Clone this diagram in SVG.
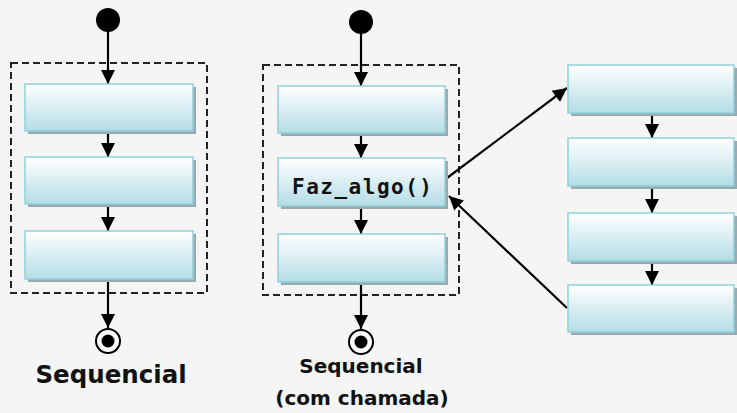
<svg xmlns="http://www.w3.org/2000/svg" width="737" height="413" viewBox="0 0 737 413">
<defs>
<linearGradient id="g" x1="0" y1="0" x2="0" y2="1">
<stop offset="0" stop-color="#ffffff"/>
<stop offset="1" stop-color="#b4dde6"/>
</linearGradient>
<marker id="ah" markerWidth="14" markerHeight="15" viewBox="0 0 14 15" refX="14" refY="7.5" orient="auto" markerUnits="userSpaceOnUse">
<path d="M0,0.5 L14,7.5 L0,14.5 Z" fill="#000"/>
</marker>
</defs>
<style>
.sh{fill:#9aa9ad}
.bx{fill:url(#g);stroke:#90cfdc;stroke-width:1.5}
.dash{fill:none;stroke:#222;stroke-width:2;stroke-dasharray:7,4}
.ln{stroke:#000;stroke-width:2.2;fill:none;marker-end:url(#ah)}
.t{font-family:"DejaVu Sans",sans-serif;font-weight:bold;fill:#111;text-anchor:middle}
</style>
<rect width="737" height="413" fill="#f5f5f5"/>
<rect class="dash" x="11" y="63" width="196" height="230"/>
<rect class="dash" x="263" y="65" width="196" height="230"/>
<g id="connectors">
<line class="ln" x1="108" y1="20" x2="108" y2="84"/>
<line class="ln" x1="108" y1="131" x2="108" y2="157"/>
<line class="ln" x1="108" y1="205" x2="108" y2="231"/>
<line class="ln" x1="108" y1="281" x2="108" y2="328"/>
<line class="ln" x1="361" y1="22" x2="361" y2="86"/>
<line class="ln" x1="361" y1="133" x2="361" y2="158"/>
<line class="ln" x1="361" y1="207" x2="361" y2="234"/>
<line class="ln" x1="361" y1="283" x2="361" y2="329"/>
<line class="ln" x1="447" y1="178" x2="567" y2="88"/>
<line class="ln" x1="567" y1="308" x2="449" y2="196"/>
<line class="ln" x1="652" y1="113" x2="652" y2="138"/>
<line class="ln" x1="652" y1="187" x2="652" y2="213"/>
<line class="ln" x1="652" y1="261" x2="652" y2="285"/>
</g>
<g id="start1"><circle cx="108" cy="20" r="12" fill="#000"/></g>
<g id="start2"><circle cx="361" cy="22" r="12" fill="#000"/></g>
<g id="a1"><rect class="sh" x="28" y="87" width="168" height="47"/><rect class="bx" x="25" y="84" width="168" height="47"/></g>
<g id="a2"><rect class="sh" x="28" y="160" width="168" height="47"/><rect class="bx" x="25" y="157" width="168" height="47"/></g>
<g id="a3"><rect class="sh" x="28" y="234" width="168" height="48"/><rect class="bx" x="25" y="231" width="168" height="48"/></g>
<g id="b1"><rect class="sh" x="281" y="89" width="167" height="47"/><rect class="bx" x="278" y="86" width="167" height="47"/></g>
<g id="b2"><rect class="sh" x="281" y="161" width="167" height="48"/><rect class="bx" x="278" y="158" width="167" height="48"/>
<text x="362" y="194" font-family="'DejaVu Sans Mono','Liberation Mono',monospace" font-weight="bold" font-size="21" text-anchor="middle" textLength="140" lengthAdjust="spacing" fill="#111">Faz_algo()</text></g>
<g id="b3"><rect class="sh" x="281" y="237" width="167" height="48"/><rect class="bx" x="278" y="234" width="167" height="48"/></g>
<g id="c1"><rect class="sh" x="571" y="68" width="166" height="48"/><rect class="bx" x="568" y="65" width="166" height="48"/></g>
<g id="c2"><rect class="sh" x="571" y="141" width="166" height="48"/><rect class="bx" x="568" y="138" width="166" height="48"/></g>
<g id="c3"><rect class="sh" x="571" y="216" width="166" height="48"/><rect class="bx" x="568" y="213" width="166" height="48"/></g>
<g id="c4"><rect class="sh" x="571" y="288" width="166" height="47"/><rect class="bx" x="568" y="285" width="166" height="47"/></g>
<g id="end1"><circle cx="108" cy="341" r="12" fill="#fff" stroke="#000" stroke-width="2"/><circle cx="108" cy="341" r="6.5" fill="#000"/></g>
<g id="end2"><circle cx="361" cy="342" r="12" fill="#fff" stroke="#000" stroke-width="2"/><circle cx="361" cy="342" r="6.5" fill="#000"/></g>
<text class="t" x="111" y="383" font-size="24.5">Sequencial</text>
<text class="t" x="361" y="373" font-size="20">Sequencial</text>
<text class="t" x="362" y="405" font-size="20">(com chamada)</text>
</svg>
